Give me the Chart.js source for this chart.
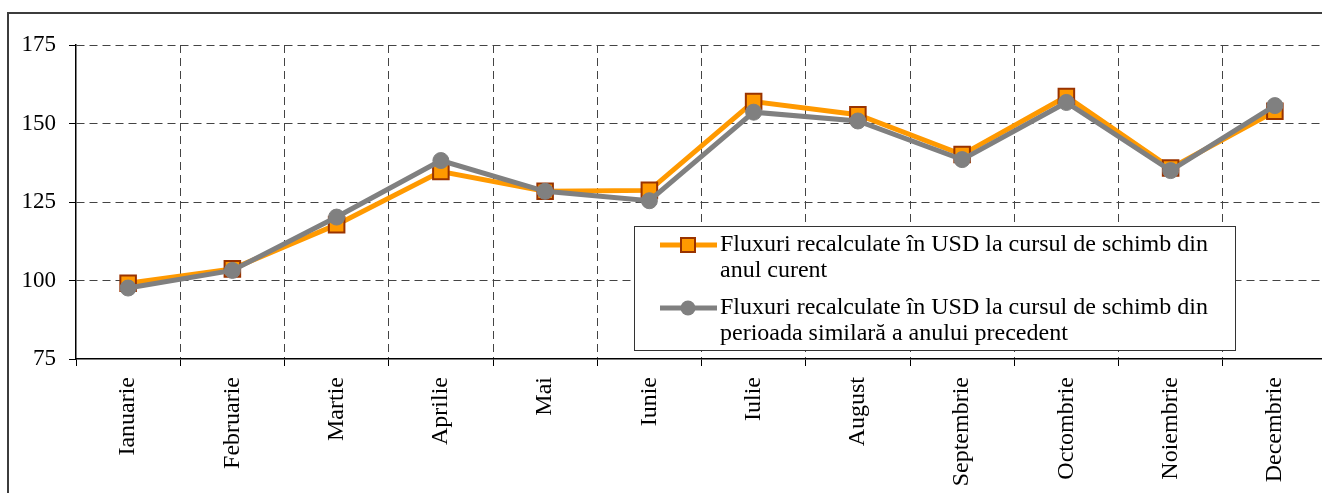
<!DOCTYPE html>
<html>
<head>
<meta charset="utf-8">
<script src="https://cdn.jsdelivr.net/npm/chart.js@4.4.0/dist/chart.umd.min.js"></script>
<style>
  html, body { margin: 0; padding: 0; background: #fff; overflow: hidden; width: 1322px; height: 493px; }
  #cadru { position: absolute; left: 7px; top: 12px; width: 1400px; height: 600px; border: 2px solid #3c3c3c; box-sizing: border-box; }
  #wrap { position: absolute; left: 0; top: 0; width: 1340px; height: 493px; }
</style>
</head>
<body>
<div id="cadru"></div>
<div id="wrap"><canvas id="grafic" width="1340" height="493"></canvas></div>
<script>
const luni = ["Ianuarie", "Februarie", "Martie", "Aprilie", "Mai", "Iunie", "Iulie", "August", "Septembrie", "Octombrie", "Noiembrie", "Decembrie"];
const valoriCurent = [99.1, 103.7, 117.8, 134.7, 128.4, 128.7, 157.0, 152.8, 140.1, 158.6, 135.8, 153.9];
const valoriPrecedent = [97.6, 103.2, 120.2, 138.2, 128.4, 125.4, 153.6, 150.8, 138.5, 156.7, 135.0, 155.7];
const etichetaCurent = ["Fluxuri recalculate în USD la cursul de schimb din", "anul curent"];
const etichetaPrecedent = ["Fluxuri recalculate în USD la cursul de schimb din", "perioada similară a anului precedent"];
const ticksY = [75, 100, 125, 150, 175];

const FONT = '"Liberation Serif", "Times New Roman", serif';
Chart.defaults.font.family = FONT;
Chart.defaults.font.size = 23;
Chart.defaults.color = "#000";

// legenda in caseta, pe doua randuri pentru fiecare serie
const legendaCasuta = {
  id: "legendaCasuta",
  afterDraw(chart) {
    const ctx = chart.ctx;
    const a = chart.chartArea;
    const x = a.left + 558, y = a.top + 181, w = 601, h = 124;
    ctx.save();
    ctx.fillStyle = "#fff";
    ctx.fillRect(x, y, w, h);
    ctx.strokeStyle = "#333";
    ctx.lineWidth = 1;
    ctx.strokeRect(x + 0.5, y + 0.5, w, h);
    ctx.font = "24px " + FONT;
    ctx.textBaseline = "middle";
    chart.data.datasets.forEach((ds, i) => {
      const y0 = y + 19 + i * 63;
      ctx.strokeStyle = ds.borderColor;
      ctx.lineWidth = ds.borderWidth;
      ctx.beginPath();
      ctx.moveTo(x + 26, y0);
      ctx.lineTo(x + 83, y0);
      ctx.stroke();
      ctx.fillStyle = ds.pointBackgroundColor;
      ctx.strokeStyle = ds.pointBorderColor;
      ctx.lineWidth = ds.pointBorderWidth;
      if (ds.pointStyle === "rect") {
        ctx.fillRect(x + 47, y0 - 7, 14, 14);
        ctx.strokeRect(x + 47, y0 - 7, 14, 14);
      } else {
        ctx.beginPath();
        ctx.arc(x + 54, y0, 7.5, 0, Math.PI * 2);
        ctx.fill();
      }
      ctx.fillStyle = "#000";
      ds.eticheta.forEach((rand, j) => {
        ctx.fillText(rand, x + 86, y0 + j * 26);
      });
    });
    ctx.restore();
  }
};

const ctx = document.getElementById("grafic").getContext("2d");
let myChart = new Chart(ctx, {
  type: "line",
  data: {
    labels: luni,
    datasets: [
      {
        label: etichetaCurent.join(" "),
        eticheta: etichetaCurent,
        data: valoriCurent,
        borderColor: "#FF9900",
        borderWidth: 5,
        pointStyle: "rect",
        pointRadius: 11,
        pointBackgroundColor: "#FF9900",
        pointBorderColor: "#993300",
        pointBorderWidth: 2,
        tension: 0,
        order: 2,
      },
      {
        label: etichetaPrecedent.join(" "),
        eticheta: etichetaPrecedent,
        data: valoriPrecedent,
        borderColor: "#808080",
        borderWidth: 5,
        pointStyle: "circle",
        pointRadius: 8,
        pointBackgroundColor: "#808080",
        pointBorderColor: "#808080",
        pointBorderWidth: 1,
        tension: 0,
        order: 1,
      },
    ],
  },
  options: {
    responsive: false,
    animation: false,
    layout: { padding: { top: 45, right: 9, bottom: 0, left: 0 } },
    plugins: { legend: { display: false }, tooltip: { enabled: false } },
    scales: {
      x: {
        offset: true,
        grid: {
          offset: true,
          color: (c) => (c.index === 0 ? "rgba(0,0,0,0)" : "#444"),
          lineWidth: 1,
          tickLength: 7,
          tickColor: "#000",
          tickBorderDash: [],
        },
        border: { display: true, color: "#000", width: 1.5, dash: [8, 5] },
        ticks: { maxRotation: 90, minRotation: 90, autoSkip: false, padding: 11, color: "#000", font: { size: 24 } },
        afterFit: (s) => { s.height = 134; },
      },
      y: {
        min: 75,
        max: 175,
        afterBuildTicks: (s) => { s.ticks = ticksY.map((v) => ({ value: v })); },
        grid: {
          color: (c) => (c.tick && c.tick.value === 75 ? "rgba(0,0,0,0)" : "#444"),
          lineWidth: 1,
          tickLength: 7,
          tickColor: "#000",
          tickBorderDash: [],
        },
        border: { display: true, color: "#000", width: 1.5, dash: [8, 5] },
        ticks: { padding: 13, color: "#000" },
        afterFit: (s) => { s.width = 76; },
      },
    },
  },
  plugins: [legendaCasuta],
});
</script>
</body>
</html>
